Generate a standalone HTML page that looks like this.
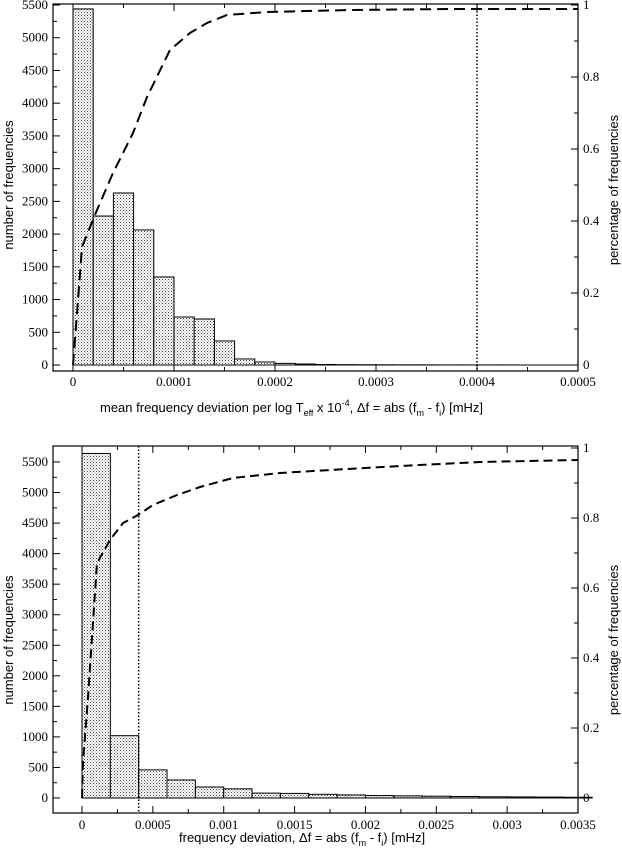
<!DOCTYPE html>
<html><head><meta charset="utf-8"><style>
html,body{margin:0;padding:0;background:#fff;}
svg{display:block}
.t{font-family:"Liberation Serif",serif;font-size:13px;}
.s{font-family:"Liberation Sans",sans-serif;font-size:13px;}
</style></head><body>
<svg id="c" width="622" height="851" xmlns="http://www.w3.org/2000/svg">
<defs>
<pattern id="dots" width="3" height="3" patternUnits="userSpaceOnUse">
<rect width="3" height="3" fill="#fff"/>
<rect x="0" y="0" width="1" height="1" fill="#444"/>
<rect x="1.5" y="1.5" width="1" height="1" fill="#777"/>
</pattern>
</defs>
<g id="g"></g>
<!-- axis labels -->
<text class="s" x="0" y="0" text-anchor="middle" transform="translate(13,185) rotate(-90)">number of frequencies</text>
<text class="s" x="0" y="0" text-anchor="middle" transform="translate(618,190) rotate(-90)">percentage of frequencies</text>
<text class="s" x="100" y="412">mean frequency deviation per log T<tspan font-size="9" dy="4">eff</tspan><tspan dy="-4"> x 10</tspan><tspan font-size="9" dy="-6">-4</tspan><tspan dy="6">, Δf = abs (f</tspan><tspan font-size="9" dy="4">m</tspan><tspan dy="-4"> - f</tspan><tspan font-size="9" dy="4">i</tspan><tspan dy="-4">) [mHz]</tspan></text>
<text class="s" x="179" y="842">frequency deviation, Δf = abs (f<tspan font-size="9" dy="4">m</tspan><tspan dy="-4"> - f</tspan><tspan font-size="9" dy="4">i</tspan><tspan dy="-4">) [mHz]</tspan></text>
<text class="s" x="0" y="0" text-anchor="middle" transform="translate(13,640) rotate(-90)">number of frequencies</text>
<text class="s" x="0" y="0" text-anchor="middle" transform="translate(618,640) rotate(-90)">percentage of frequencies</text>
</svg>
<script>
const g=document.getElementById('g');let h='';
function chart(o){
 const {L,R,T,B,y0,ypu,x0,xpu,ymaxLab,yl,bins,bw,cum,dotx,xt,xlab,p1,py0,xly}=o;
 // bars
 bins.forEach((v,i)=>{const x=x0+i*bw*xpu,w=bw*xpu,y=y0-v*ypu;
  h+=`<rect x="${x}" y="${y}" width="${w}" height="${y0-y}" fill="url(#dots)" stroke="#000" stroke-width="1"/>`;});
 h+=`<line x1="${x0}" y1="${y0}" x2="${R}" y2="${y0}" stroke="#000" stroke-width="1"/>`;
 // box
 h+=`<rect x="${L}" y="${T}" width="${R-L}" height="${B-T}" fill="none" stroke="#000" stroke-width="1.2"/>`;
 // left ticks
 for(let v=0;v<=ymaxLab;v+=250){const y=y0-v*ypu;const maj=v%500==0;
  h+=`<line x1="${L}" y1="${y}" x2="${L+(maj?7:4)}" y2="${y}" stroke="#000"/>`;
  if(maj)h+=`<text class="t" x="${L-5}" y="${y+4}" text-anchor="end">${v}</text>`;}
 // right ticks
 for(let i=0;i<=10;i++){const y=py0-i*0.1*p1;const maj=i%2==0;
  h+=`<line x1="${R}" y1="${y}" x2="${R-(maj?7:4)}" y2="${y}" stroke="#000"/>`;
  if(maj)h+=`<text class="t" x="${R+5}" y="${y+4}">${i==10?'1':i==0?'0':(i/10).toFixed(1)}</text>`;}
 // x ticks
 xt.forEach((lab,i)=>{const x=x0+i*o.xstep*xpu;
  h+=`<line x1="${x}" y1="${B}" x2="${x}" y2="${B-7}" stroke="#000"/><line x1="${x}" y1="${T}" x2="${x}" y2="${T+7}" stroke="#000"/>`;
  const xm=x+o.xstep*xpu/2;
  if(i<xt.length-1)h+=`<line x1="${xm}" y1="${B}" x2="${xm}" y2="${B-4}" stroke="#000"/><line x1="${xm}" y1="${T}" x2="${xm}" y2="${T+4}" stroke="#000"/>`;
  h+=`<text class="t" x="${x}" y="${xly}" text-anchor="middle">${lab}</text>`;});
 // dotted
 const dx=x0+dotx*xpu;
 h+=`<line x1="${dx}" y1="${T}" x2="${dx}" y2="${B}" stroke="#000" stroke-width="1.5" stroke-dasharray="1.5,2"/>`;
 // cumulative
 h+=`<polyline points="${cum.map(p=>p.join(',')).join(' ')}" fill="none" stroke="#000" stroke-width="2" stroke-dasharray="${o.dash}"/>`;
}
chart({L:53,R:578,T:4,B:371,y0:365,ypu:360/5500,x0:73,xpu:101/0.0001,ymaxLab:5500,
 bins:[5440,2276,2628,2063,1345,733,703,367,92,46,25,15,8,5,4,3,2,2,1,1,1,1,0,0,0],bw:0.00002,
 dotx:0.0004,xstep:0.0001,xt:['0','0.0001','0.0002','0.0003','0.0004','0.0005'],xly:386,p1:360,py0:365,dash:'11,6',
 cum:[[73,365],[78,300],[82,247],[90,227],[97,210],[113,173],[133,133],[147,97],[170,50],[190,33],[207,23],[227,15],[267,12],[350,10],[450,9],[578,9]]});
chart({L:53,R:578,T:446,B:813,y0:798,ypu:336/5500,x0:82,xpu:70.86/0.0005,ymaxLab:5500,
 bins:[5640,1020,460,295,180,150,80,75,60,50,40,35,30,25,20,18,15,12],bw:0.0002,
 dotx:0.0004,xstep:0.0005,xt:['0','0.0005','0.001','0.0015','0.002','0.0025','0.003','0.0035'],xly:829,p1:350,py0:798,dash:'9,5',
 cum:[[82,798],[83,763],[88,697],[97,563],[110,540],[123,523],[138,515],[153,505],[177,495],[200,487],[233,478],[280,473],[330,470],[400,466],[480,462],[578,460]]});
g.innerHTML=h;
</script>
</body></html>
